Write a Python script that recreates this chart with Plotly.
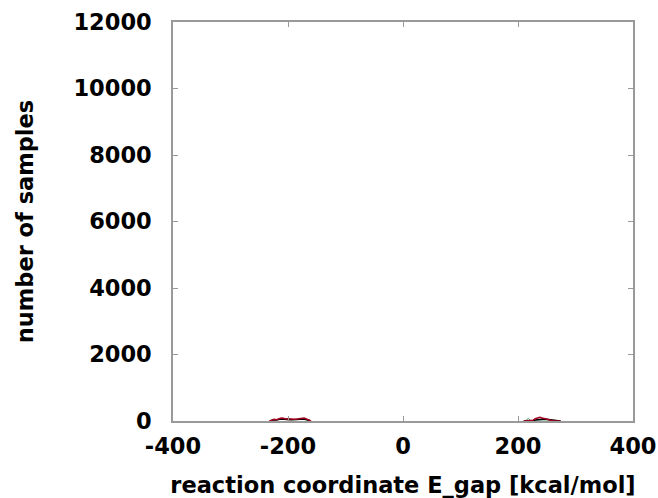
import plotly.graph_objects as go

# Histogram data (bin centre in kcal/mol, counts)
left_bins = [-232, -228, -224, -220, -216, -212, -208, -204, -200, -196, -192, -188, -184, -180, -176, -172, -168, -164, -160]
left_red = [0, 20, 50, 40, 70, 90, 80, 60, 70, 60, 50, 55, 60, 70, 80, 90, 60, 30, 0]
left_black = [0, 30, 40, 30, 50, 60, 50, 40, 45, 40, 35, 40, 45, 50, 55, 60, 40, 20, 0]

right_bins = [210, 214, 218, 222, 226, 230, 234, 238, 242, 246, 250, 254, 258, 262, 266, 270, 274]
right_green = [0, 20, 80, 10, 0, 0, 0, 0, 0, 0, 0, 0, 0, 0, 0, 0, 0]
right_red = [0, 0, 0, 0, 20, 70, 100, 110, 90, 70, 40, 20, 0, 0, 0, 0, 0]
right_black = [0, 0, 0, 0, 10, 30, 40, 50, 60, 60, 55, 50, 45, 40, 30, 10, 0]

x_ticks = [-400, -200, 0, 200, 400]
y_ticks = [0, 2000, 4000, 6000, 8000, 10000, 12000]

fig = go.Figure()
fig.add_trace(go.Scatter(x=left_bins, y=left_black, mode="lines",
                         line=dict(color="black", width=1.5), showlegend=False))
fig.add_trace(go.Scatter(x=left_bins, y=left_red, mode="lines",
                         line=dict(color="#a0001c", width=1.5), showlegend=False))
fig.add_trace(go.Scatter(x=right_bins, y=right_green, mode="lines",
                         line=dict(color="#3a9a6a", width=1), showlegend=False))
fig.add_trace(go.Scatter(x=right_bins, y=right_black, mode="lines",
                         line=dict(color="black", width=1.5), showlegend=False))
fig.add_trace(go.Scatter(x=right_bins, y=right_red, mode="lines",
                         line=dict(color="#a0001c", width=1.5), showlegend=False))

font = dict(family="DejaVu Sans", size=22.5, color="black", weight="bold")

fig.update_layout(
    width=658, height=498,
    margin=dict(l=173, r=25, t=22, b=77),
    paper_bgcolor="white", plot_bgcolor="white",
    font=font,
    xaxis=dict(
        range=[-400, 400], tickvals=x_ticks, ticktext=[str(v) for v in x_ticks],
        showgrid=False, zeroline=False, showline=True, linecolor="#999999",
        linewidth=1.5, mirror="allticks", ticks="inside", ticklen=5,
        tickcolor="#999999", ticklabelstandoff=4, automargin=False,
        title=dict(text="reaction coordinate E_gap [kcal/mol]", standoff=19, font=font),
    ),
    yaxis=dict(
        range=[0, 12000], tickvals=y_ticks, ticktext=[str(v) for v in y_ticks],
        showgrid=False, zeroline=False, showline=True, linecolor="#999999",
        linewidth=1.5, mirror="allticks", ticks="inside", ticklen=5,
        tickcolor="#999999", ticklabelstandoff=15, automargin=False,
        title=dict(text="number of samples", standoff=34, font=font),
    ),
)

fig.write_html("out.html", config={"displayModeBar": False},
               post_script="document.body.style.margin='0';")
